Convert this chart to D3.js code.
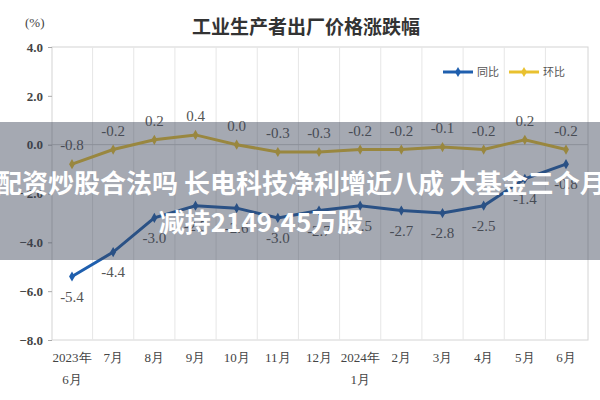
<!DOCTYPE html><html><head><meta charset="utf-8">
<script src="https://cdn.jsdelivr.net/npm/d3@7"></script>
<style>body{margin:0;background:#fff}</style></head><body>
<svg id="c" width="600" height="400"></svg>
<script>
const months=["2023年|6月","7月","8月","9月","10月","11月","12月","2024年|1月","2月","3月","4月","5月","6月"];
const yoy=[-5.4,-4.4,-3.0,-2.5,-2.6,-3.0,-2.7,-2.5,-2.7,-2.8,-2.5,-1.4,-0.8];
const mom=[-0.8,-0.2,0.2,0.4,0.0,-0.3,-0.3,-0.2,-0.2,-0.1,-0.2,0.2,-0.2];
const yTicks=[4,2,0,-2,-4,-6,-8];
const svg=d3.select("#c");
const L=52,R=588,T=47,B=340;
const x=d3.scalePoint().domain(d3.range(months.length)).range([72,566]);
const y=d3.scaleLinear().domain([-8,4]).range([B,T]);
const serif="'Liberation Serif','DejaVu Serif',serif";
const cjk="'Noto Sans CJK SC',sans-serif";
svg.append("rect").attr("x",L).attr("y",T).attr("width",R-L).attr("height",B-T).attr("fill","none").attr("stroke","#d4d4d4");
const step=x.step();
d3.range(months.length-1).forEach(i=>svg.append("line").attr("x1",x(i)+step/2).attr("x2",x(i)+step/2).attr("y1",T).attr("y2",B).attr("stroke","#e6e6e6"));
svg.append("line").attr("x1",L).attr("x2",R).attr("y1",y(0)).attr("y2",y(0)).attr("stroke","#d0d0d0");
const ya=svg.append("g").attr("transform",`translate(${L},0)`).call(d3.axisLeft(y).tickValues(yTicks).tickFormat(d3.format(".1f")).tickSize(4));
ya.select(".domain").remove();
ya.selectAll("line").attr("stroke","#aaa");
ya.selectAll("text").attr("font-family",serif).attr("font-size",13).attr("font-weight","bold").attr("fill","#444").attr("dx",-2);
svg.append("text").attr("x",25).attr("y",27).text("(%)").attr("font-family",serif).attr("font-size",13).attr("fill","#444");
svg.append("text").attr("x",306).attr("y",34).attr("text-anchor","middle").text("工业生产者出厂价格涨跌幅").attr("font-family",cjk).attr("font-size",19).attr("font-weight","bold").attr("fill","#333");
months.forEach((m,i)=>{const p=m.split("|");p.forEach((s,j)=>svg.append("text").attr("x",x(i)).attr("y",362+j*22).attr("text-anchor","middle").text(s).attr("font-family",serif).attr("font-size",13).attr("fill","#444"));});
const line=d3.line().x((d,i)=>x(i)).y(d=>y(d));
function series(data,color,labelDy){
 svg.append("path").datum(data).attr("d",line).attr("fill","none").attr("stroke",color).attr("stroke-width",3);
 svg.selectAll(null).data(data).enter().append("path").attr("d",d3.symbol(d3.symbolDiamond,30)).attr("transform",(d,i)=>`translate(${x(i)},${y(d)})`).attr("fill",color);
 svg.selectAll(null).data(data).enter().append("text").attr("x",(d,i)=>x(i)).attr("y",d=>y(d)+labelDy).attr("text-anchor","middle").text(d=>d.toFixed(1)).attr("font-family",serif).attr("font-size",15).attr("fill","#555");
}
series(mom,"#e9c12f",-14);
series(yoy,"#1f5fae",25);
const lg=svg.append("g").attr("transform","translate(443,72)");
[["同比","#1f5fae",0],["环比","#e9c12f",66]].forEach(([t,c,o])=>{
 lg.append("line").attr("x1",o).attr("x2",o+30).attr("stroke",c).attr("stroke-width",3);
 lg.append("path").attr("d",d3.symbol(d3.symbolDiamond,30)).attr("transform",`translate(${o+15},0)`).attr("fill",c);
 lg.append("text").attr("x",o+34).attr("y",4).text(t).attr("font-family",cjk).attr("font-size",11).attr("fill","#555");
});
svg.append("rect").attr("x",0).attr("y",122).attr("width",600).attr("height",138).attr("fill","rgba(55,65,85,0.45)");
svg.append("text").attr("x",-4).attr("y",193).text("配资炒股合法吗 长电科技净利增近八成 大基金三个月").attr("font-family",cjk).attr("font-size",26).attr("font-weight","bold").attr("fill","#fff");
svg.append("text").attr("x",261).attr("y",232).attr("text-anchor","middle").text("减持2149.45万股").attr("font-family",cjk).attr("font-size",26).attr("font-weight","bold").attr("fill","#fff");
</script></body></html>
